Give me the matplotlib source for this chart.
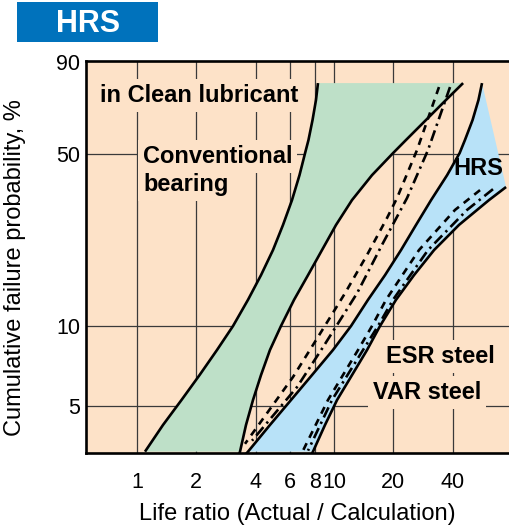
import numpy as np
import matplotlib
matplotlib.use("Agg")
import matplotlib.pyplot as plt
from matplotlib.patches import Rectangle

plt.rcParams['font.family'] = ['Liberation Sans', 'DejaVu Sans']

# probability axis: tick percents and their heights (px above the bottom of the plot)
prob_knots = [3.3, 5, 10, 50, 90]
height_knots = [0, 47, 127, 299, 391]

x_ticks = [1, 2, 4, 6, 8, 10, 20, 40]
y_ticks = [5, 10, 50, 90]
y_grid = [5, 10, 50]

# shared probability levels used for the band edges
band_y = [82.6, 75.4, 66.05, 56.5, 50.4, 42.3, 34.2, 27.3, 21.5, 16.8, 13.1,
          10, 8.14, 6.55, 5.27, 4.23, 3.34]

# conventional bearing band (green)
conv_left_x = [8.29, 8.10, 7.78, 7.42, 7.13, 6.68, 6.12, 5.51, 4.90, 4.26, 3.660,
               3.072, 2.547, 2.077, 1.682, 1.355, 1.098]
conv_right_x = [45.2, 37.0, 29.3, 23.2, 19.93, 15.59, 12.34, 10.24, 8.69, 7.38, 6.27,
                5.38, 4.73, 4.26, 3.88, 3.575, 3.333]

# HRS band (blue)
hrs_left_x = [56.4, 54.1, 50.5, 46.2, 43.4, 37.5, 31.1, 26.08, 21.88, 18.15, 14.88,
              12.20, 9.88, 7.73, 6.05, 4.73, 3.660]
hrs_low_x = [74.7, 61.2, 43.1, 32.2, 25.47, 20.64, 17.12, 14.71, 12.34, 10.36, 9.00, 7.82]
hrs_low_y = [38.3, 34.2, 27.3, 21.5, 16.8, 13.1, 10, 8.14, 6.55, 5.27, 4.23, 3.34]

# ESR / VAR steel, middle pair
esr_x = [34.1, 26.38, 20.88, 18.58, 14.71, 11.37, 8.29, 6.19, 3.533]
esr_y = [81.0, 51.8, 34.8, 29.1, 20.5, 14.0, 9.10, 6.44, 3.58]
var_x = [38.8, 30.0, 23.47, 17.52, 13.09, 8.80, 6.49, 3.835]
var_y = [81.0, 51.8, 34.8, 22.6, 14.0, 8.35, 5.90, 3.68]

# ESR / VAR steel, pair inside the HRS band
esr2_x = [55.1, 41.1, 27.0, 18.37, 15.59, 13.24, 9.32, 6.96]
esr2_y = [37.3, 31.3, 21.5, 13.1, 10, 8.14, 5.27, 3.37]
var2_x = [64.1, 47.3, 30.0, 19.93, 16.72, 14.04, 9.77, 7.38]
var2_y = [37.6, 31.3, 21.5, 13.1, 10, 8.14, 5.27, 3.37]

PEACH = '#FDE2C8'
GREEN = '#BEE0C8'
BLUE = '#B8E2F8'


def weib(p):
    p = np.clip(np.asarray(p, dtype=float), 1e-4, 99.99)
    return np.log(-np.log(1 - p / 100))


WK = weib(prob_knots)
HK = np.array(height_knots, dtype=float)


def fwd(p):
    w = weib(p)
    out = np.interp(w, WK, HK)
    lo = w < WK[0]
    hi = w > WK[-1]
    out = np.where(lo, HK[0] + (w - WK[0]) * (HK[1] - HK[0]) / (WK[1] - WK[0]), out)
    out = np.where(hi, HK[-1] + (w - WK[-1]) * (HK[-1] - HK[-2]) / (WK[-1] - WK[-2]), out)
    return out


def inv(h):
    h = np.asarray(h, dtype=float)
    w = np.interp(h, HK, WK)
    lo = h < HK[0]
    hi = h > HK[-1]
    w = np.where(lo, WK[0] + (h - HK[0]) * (WK[1] - WK[0]) / (HK[1] - HK[0]), w)
    w = np.where(hi, WK[-1] + (h - HK[-1]) * (WK[-1] - WK[-2]) / (HK[-1] - HK[-2]), w)
    return 100 * (1 - np.exp(-np.exp(w)))


fig = plt.figure(figsize=(5.09, 5.32), dpi=100)
ax = fig.add_axes([86 / 509, 1 - 453 / 532, 423 / 509, 392 / 532])
ax.set_facecolor(PEACH)
ax.set_xscale('log')
ax.set_yscale('function', functions=(fwd, inv))
ax.set_xlim(0.551, 77.3)
ax.set_ylim(3.3, 90.3)

# grid
for gx in x_ticks:
    ax.axvline(gx, color='#3a3a3a', lw=0.9, zorder=1)
for gy in y_grid:
    ax.axhline(gy, color='#3a3a3a', lw=0.9, zorder=1)

# green band
ax.fill(conv_left_x + conv_right_x[::-1], band_y + band_y[::-1],
        color=GREEN, lw=0, zorder=2)

# blue band
ax.fill(hrs_left_x + hrs_low_x[::-1], band_y + hrs_low_y[::-1],
        color=BLUE, lw=0, zorder=2)

lw = 1.9
kw = dict(color='black', lw=lw, zorder=4, solid_capstyle='butt', solid_joinstyle='round')
# edges run a little past the fill, down to the bottom frame
ax.plot(conv_left_x, band_y, **kw)
ax.plot(conv_right_x + [3.256], band_y + [3.19], **kw)
ax.plot(hrs_left_x + [3.533], band_y + [3.24], **kw)
ax.plot(hrs_low_x + [7.64], hrs_low_y + [3.24], **kw)

dash = (0, (2.8, 2.3))
dashdot = (0, (4.2, 1.8, 0.9, 1.8))
dkw = dict(color='black', lw=1.9, zorder=3, dash_capstyle='butt')
ax.plot(esr_x, esr_y, ls=dash, **dkw)
ax.plot(var_x, var_y, ls=dashdot, **dkw)
ax.plot(esr2_x, esr2_y, ls=dash, **dkw)
ax.plot(var2_x, var2_y, ls=dashdot, **dkw)

# ticks
ax.set_xticks(x_ticks)
ax.set_xticklabels([str(t) for t in x_ticks])
ax.set_yticks(y_ticks)
ax.set_yticklabels([str(t) for t in y_ticks])
ax.xaxis.set_minor_locator(matplotlib.ticker.NullLocator())
ax.yaxis.set_minor_locator(matplotlib.ticker.NullLocator())
ax.tick_params(axis='x', length=0, pad=14, labelsize=15.5)
ax.tick_params(axis='y', length=0, pad=4, labelsize=15.5)

for s in ['left', 'top', 'bottom']:
    ax.spines[s].set_linewidth(1.9)
ax.spines['right'].set_visible(False)

box = dict(boxstyle='square,pad=0.2', fc=PEACH, ec='none')


def lab(px, py, s, **kw):
    ax.text((px - 86) / 423, (453 - py) / 392, s, transform=ax.transAxes,
            fontsize=17, fontweight='bold', va='baseline', ha='left', zorder=6, **kw)


lab(100, 102, 'in Clean lubricant', bbox=box)
lab(143, 163, 'Conventional', bbox=box)
lab(143, 191, 'bearing', bbox=box)
lab(453, 175, 'HRS')
lab(386, 363, 'ESR steel', bbox=box)
lab(373, 399, 'VAR steel', bbox=box)

fig.text(297 / 509, 1 - 514 / 532, 'Life ratio (Actual / Calculation)',
         ha='center', va='center', fontsize=17)
fig.text(15 / 509, 1 - 268 / 532, 'Cumulative failure probability, %',
         ha='center', va='center', rotation=90, fontsize=17)

# title tag
fig.patches.append(Rectangle((17 / 509, 1 - 42 / 532), 141 / 509, 40 / 532,
                             transform=fig.transFigure, fc='#0072BC', ec='none'))
fig.text(88 / 509, 1 - 23.5 / 532, 'HRS', color='white', ha='center', va='center',
         fontsize=22, fontweight='bold')

fig.savefig('out.png', dpi=100)
